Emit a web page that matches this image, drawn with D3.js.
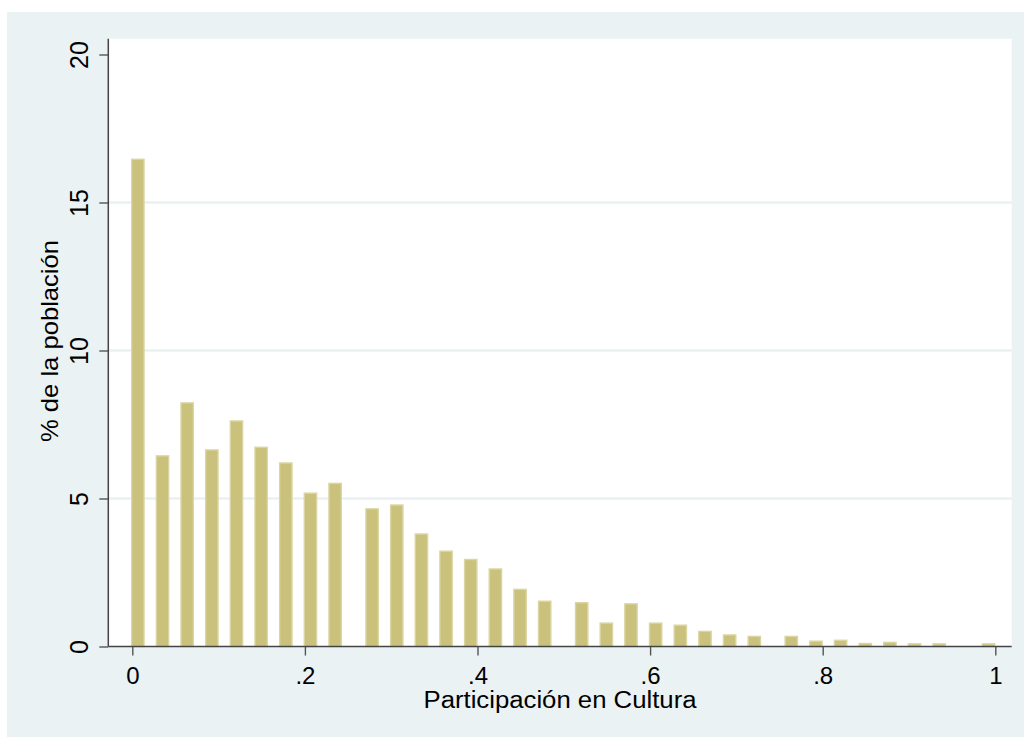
<!DOCTYPE html>
<html>
<head>
<meta charset="utf-8">
<script src="https://cdn.jsdelivr.net/npm/d3@7"></script>
<style>
  html, body { margin: 0; padding: 0; background: #ffffff; }
  svg { display: block; }
  text { font-family: "Liberation Sans", Arial, sans-serif; fill: #000; }
</style>
</head>
<body>
<svg id="chart" width="1024" height="738"></svg>
<script>
// ---- data ----
const binCount = 70;                 // histogram bins over [0, 1]
const binIndex = [0, 2, 4, 6, 8, 10, 12, 14, 16, 19, 21, 23, 25, 27, 29, 31, 33,
                  36, 38, 40, 42, 44, 46, 48, 50, 53, 55, 57, 59, 61, 63, 65, 69];
const percent  = [16.46, 6.44, 8.23, 6.64, 7.62, 6.73, 6.20, 5.18, 5.51, 4.65, 4.78, 3.80, 3.22, 2.94, 2.62, 1.93, 1.53,
                  1.48, 0.79, 1.44, 0.79, 0.72, 0.51, 0.39, 0.34, 0.34, 0.18, 0.21, 0.10, 0.14, 0.09, 0.09, 0.09];
const xTicks = [0, 0.2, 0.4, 0.6, 0.8, 1];
const xTickLabels = ["0", ".2", ".4", ".6", ".8", "1"];
const yTicks = [0, 5, 10, 15, 20];
const yGrid = [5, 10, 15];
const xTitle = "Participación en Cultura";
const yTitle = "% de la población";

// ---- layout ----
const svg = d3.select("#chart");
const outer = { x0: 7, y0: 12, x1: 1024, y1: 737 };
const plot = { left: 108.3, right: 1011.7, top: 38.7, bottom: 646.5 };

const x = d3.scaleLinear().domain([0, 1]).range([132.3, 995.3]);
const y = d3.scaleLinear().domain([0, 20]).range([646.5, 54.5]);

// background panel
svg.append("rect")
  .attr("x", outer.x0).attr("y", outer.y0)
  .attr("width", outer.x1 - outer.x0).attr("height", outer.y1 - outer.y0)
  .attr("fill", "#eaf2f3");

// plot region
svg.append("rect")
  .attr("x", plot.left).attr("y", plot.top)
  .attr("width", plot.right - plot.left).attr("height", plot.bottom - plot.top)
  .attr("fill", "#ffffff");

// gridlines
svg.append("g").selectAll("line").data(yGrid).join("line")
  .attr("x1", plot.left).attr("x2", plot.right)
  .attr("y1", d => y(d)).attr("y2", d => y(d))
  .attr("stroke", "#e6eef0").attr("stroke-width", 2);

// bars
const bars = binIndex.map((k, i) => ({ k, v: percent[i] }));
svg.append("g").selectAll("rect").data(bars).join("rect")
  .attr("x", d => x(d.k / binCount) - 0.6)
  .attr("width", d => x((d.k + 1) / binCount) - x(d.k / binCount))
  .attr("y", d => y(d.v))
  .attr("height", d => y(0) - y(d.v))
  .attr("fill", "#c9c17c")
  .attr("stroke", "#dbd5a2")
  .attr("stroke-width", 1.4);

// x axis
const xAxis = d3.axisBottom(x).tickValues(xTicks)
  .tickFormat((d, i) => xTickLabels[i]).tickSize(9).tickPadding(8);
const gx = svg.append("g").attr("transform", `translate(0,${plot.bottom})`).call(xAxis);
gx.select(".domain").remove();
gx.selectAll(".tick line").attr("stroke", "#555").attr("stroke-width", 1.4);
gx.selectAll(".tick text")
  .attr("font-size", 24).attr("fill", "#000")
  .attr("dy", null).attr("y", 37);
svg.append("line")
  .attr("x1", plot.left).attr("x2", plot.right)
  .attr("y1", plot.bottom).attr("y2", plot.bottom)
  .attr("stroke", "#444").attr("stroke-width", 1.5);

// y axis
const yAxis = d3.axisLeft(y).tickValues(yTicks).tickSize(9).tickFormat(d3.format("d"));
const gy = svg.append("g").attr("transform", `translate(${plot.left},0)`).call(yAxis);
gy.select(".domain").remove();
gy.selectAll(".tick line").attr("stroke", "#555").attr("stroke-width", 1.4);
gy.selectAll(".tick text")
  .attr("font-size", 25).attr("fill", "#000")
  .attr("x", null).attr("dy", null)
  .attr("text-anchor", "middle")
  .attr("transform", "translate(-20,0) rotate(-90)");
svg.append("line")
  .attr("x1", plot.left).attr("x2", plot.left)
  .attr("y1", plot.top).attr("y2", plot.bottom)
  .attr("stroke", "#444").attr("stroke-width", 1.5);

// axis titles
svg.append("text")
  .attr("x", (plot.left + plot.right) / 2).attr("y", 708)
  .attr("text-anchor", "middle").attr("font-size", 23)
  .attr("textLength", 273).attr("lengthAdjust", "spacingAndGlyphs")
  .text(xTitle);

svg.append("text")
  .attr("transform", `translate(58,${341}) rotate(-90)`)
  .attr("text-anchor", "middle").attr("font-size", 24)
  .attr("textLength", 202).attr("lengthAdjust", "spacingAndGlyphs")
  .text(yTitle);
</script>
</body>
</html>
